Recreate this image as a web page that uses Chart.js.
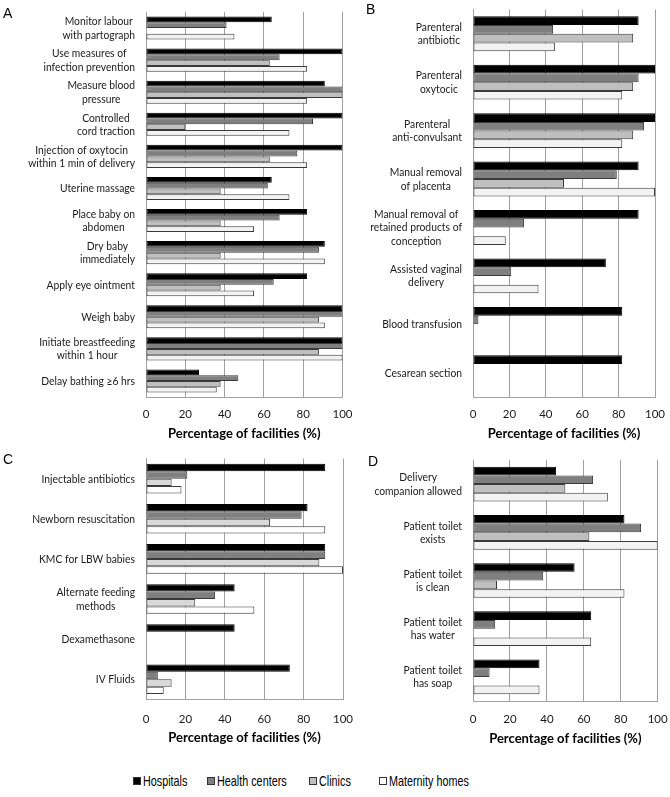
<!DOCTYPE html>
<html>
<head>
<meta charset="utf-8">
<script src="https://cdn.jsdelivr.net/npm/chart.js@4/dist/chart.umd.min.js"></script>
<style>
  html, body { margin: 0; padding: 0; background: #fff; }
  body { width: 670px; height: 797px; position: relative; overflow: hidden; }
  canvas { position: absolute; }
  .plabel { position: absolute; font-family: "Liberation Sans", Arial, sans-serif; font-size: 14px; color: #000; line-height: 1; }
  .legend { position: absolute; top: 773px; left: 0; width: 670px; height: 16px; font-family: "Liberation Sans", Arial, sans-serif; font-size: 15px; color: #000; }
  .litem { position: absolute; top: 0; white-space: nowrap; line-height: 16px; }
  .lbox { position: absolute; top: 4px; width: 6px; height: 6px; border: 1px solid #333; box-sizing: content-box; }
  .ltext { position: absolute; top: 0; transform: scaleX(0.72); transform-origin: 0 50%; white-space: nowrap; }
</style>
</head>
<body>
<canvas id="cA" width="360" height="445" style="left:0;top:0"></canvas>
<canvas id="cB" width="330" height="445" style="left:340px;top:0"></canvas>
<canvas id="cC" width="360" height="305" style="left:0;top:445px"></canvas>
<canvas id="cD" width="330" height="305" style="left:340px;top:445px"></canvas>

<div class="plabel" style="left:3px;top:6px">A</div>
<div class="plabel" style="left:366px;top:2px">B</div>
<div class="plabel" style="left:3px;top:452px">C</div>
<div class="plabel" style="left:368px;top:454px">D</div>

<div class="legend" id="legend"></div>

<script>
// ---------------- DATA ----------------
const seriesNames = ["Hospitals", "Health centers", "Clinics", "Maternity homes"];

const catsA = [["Monitor labour","with partograph"], ["Use measures of","infection prevention"], ["Measure blood","pressure"], ["Controlled","cord traction"], ["Injection of oxytocin","within 1 min of delivery"], "Uterine massage", ["Place baby on","abdomen"], ["Dry baby","immediately"], "Apply eye ointment", "Weigh baby", ["Initiate breastfeeding","within 1 hour"], "Delay bathing \u22656 hrs"];
const hospA   = [64, 100, 91, 100, 100, 64, 82, 91, 82, 100, 100, 27];
const healthA = [41, 68, 100, 85, 77, 62, 68, 88, 65, 100, 100, 47];
const clinicA = [0, 63, 100, 20, 63, 38, 38, 38, 38, 88, 88, 38];
const matA    = [45, 82, 82, 73, 82, 73, 55, 91, 55, 91, 100, 36];

const catsB = [["Parenteral","antibiotic"], ["Parenteral","oxytocic"], ["Parenteral","anti-convulsant"], ["Manual removal","of placenta"], ["Manual removal of","retained products of","conception"], ["Assisted vaginal","delivery"], "Blood transfusion", "Cesarean section"];
const hospB   = [91, 100, 100, 91, 91, 73, 82, 82];
const healthB = [44, 91, 94, 79, 28, 21, 3, 0];
const clinicB = [88, 88, 88, 50, 0, 0, 0, 0];
const matB    = [45, 82, 82, 100, 18, 36, 0, 0];

const catsC = ["Injectable antibiotics", "Newborn resuscitation", "KMC for LBW babies", ["Alternate feeding","methods"], "Dexamethasone", "IV Fluids"];
const hospC   = [91, 82, 91, 45, 45, 73];
const healthC = [21, 79, 91, 35, 0, 6];
const clinicC = [13, 63, 88, 25, 0, 13];
const matC    = [18, 91, 100, 55, 0, 9];

const catsD = [["Delivery","companion allowed"], ["Patient toilet","exists"], ["Patient toilet","is clean"], ["Patient toilet","has water"], ["Patient toilet","has soap"]];
const hospD   = [45, 82, 55, 64, 36];
const healthD = [65, 91, 38, 12, 9];
const clinicD = [50, 63, 13, 0, 0];
const matD    = [73, 100, 82, 64, 36];

const xTicks = [0, 20, 40, 60, 80, 100];
const xTitle = "Percentage of facilities (%)";

// ---------------- STYLE ----------------
const GRID = '#a0a0a0';
const BAR_BORDER = '#3a3a3a';
const TXT = '#1a1a1a';
const LABEL_FONT = '12px Lato, "Open Sans", sans-serif';

const centeredYLabels = {
  id: 'centeredYLabels',
  afterDraw(chart, args, opts) {
    const s = chart.scales.y;
    const ctx = chart.ctx;
    ctx.save();
    ctx.font = opts.font;
    ctx.fillStyle = opts.color;
    ctx.textAlign = 'center';
    ctx.textBaseline = 'middle';
    s.ticks.forEach((t, i) => {
      const lines = [].concat(chart.data.labels[t.value]);
      const y = s.getPixelForTick(i);
      const w = Math.max(...lines.map(l => ctx.measureText(l).width)) * opts.sx;
      const cx = s.right - opts.gap - w / 2;
      lines.forEach((l, j) => {
        ctx.save();
        ctx.translate(cx, y + (j - (lines.length - 1) / 2) * opts.lineHeight);
        ctx.scale(opts.sx, 1);
        ctx.fillText(l, 0, 0);
        ctx.restore();
      });
    });
    ctx.restore();
  }
};

function makeChart(id, cats, vals, colors, g) {
  const ds = vals.map((v, k) => ({
    label: seriesNames[k],
    data: v,
    backgroundColor: colors[k],
    borderColor: k === 0 ? '#000' : BAR_BORDER,
    borderWidth: 1,
    borderSkipped: false,
    barPercentage: 1,
    categoryPercentage: g.cp
  }));
  return new Chart(document.getElementById(id), {
    type: 'bar',
    data: { labels: cats, datasets: ds },
    plugins: [centeredYLabels],
    options: {
      indexAxis: 'y',
      responsive: false,
      animation: false,
      devicePixelRatio: 1,
      layout: { autoPadding: false, padding: { top: g.top, right: g.right, left: 0, bottom: 0 } },
      plugins: {
        legend: { display: false },
        tooltip: { enabled: false },
        centeredYLabels: { font: LABEL_FONT, color: TXT, gap: 11, lineHeight: 13.3, sx: 0.86 }
      },
      scales: {
        x: {
          type: 'linear', min: 0, max: 100,
          afterBuildTicks: s => { s.ticks = xTicks.map(v => ({ value: v })); },
          ticks: { color: TXT, font: { family: 'Lato', size: 11.5 }, padding: g.tickPad },
          grid: { color: GRID, lineWidth: 1, drawTicks: false },
          border: { color: GRID, width: 1 },
          title: { display: true, text: xTitle, color: '#000', font: { family: 'Lato', size: 13, weight: 'bold' }, padding: { top: 0, bottom: g.titlePad } },
          afterFit: s => { s.height = g.xh; s.paddingLeft = 0; s.paddingRight = 0; }
        },
        y: {
          type: 'category',
          ticks: { display: false },
          grid: { display: false },
          border: { display: true, color: GRID, width: 1 },
          afterFit: s => { s.width = g.yw; s.paddingTop = 0; s.paddingBottom = 0; }
        }
      }
    }
  });
}

const colsStd = ['#000000', '#7f7f7f', '#bfbfbf', '#f2f2f2'];
const colsC   = ['#000000', '#7f7f7f', '#d9d9d9', '#ffffff'];

makeChart('cA', catsA, [hospA, healthA, clinicA, matA], colsStd, { cp: 0.72, top: 12, right: 17.5, yw: 146, xh: 48, tickPad: 10.2, titlePad: 3 });
makeChart('cB', catsB, [hospB, healthB, clinicB, matB], colsStd, { cp: 0.72, top: 9.5, right: 15, yw: 133, xh: 48, tickPad: 10.5, titlePad: 3 });
makeChart('cC', catsC, [hospC, healthC, clinicC, matC], colsC,   { cp: 0.74, top: 13.6, right: 17, yw: 146, xh: 50.7, tickPad: 12.7, titlePad: 4 });
makeChart('cD', catsD, [hospD, healthD, clinicD, matD], colsStd, { cp: 0.72, top: 15, right: 12.3, yw: 133, xh: 49, tickPad: 11.2, titlePad: 3.5 });

// ---------------- LEGEND ----------------
const legendFill = ['#000000', '#7f7f7f', '#bfbfbf', '#ffffff'];
const legendX = [133, 207, 309, 379];
const leg = document.getElementById('legend');
seriesNames.forEach((n, k) => {
  const it = document.createElement('div');
  it.className = 'litem';
  it.style.left = legendX[k] + 'px';
  const b = document.createElement('span');
  b.className = 'lbox';
  b.style.left = '0px';
  b.style.background = legendFill[k];
  const t = document.createElement('span');
  t.className = 'ltext';
  t.style.left = '10px';
  t.textContent = n;
  it.appendChild(b); it.appendChild(t);
  leg.appendChild(it);
});
</script>
</body>
</html>
